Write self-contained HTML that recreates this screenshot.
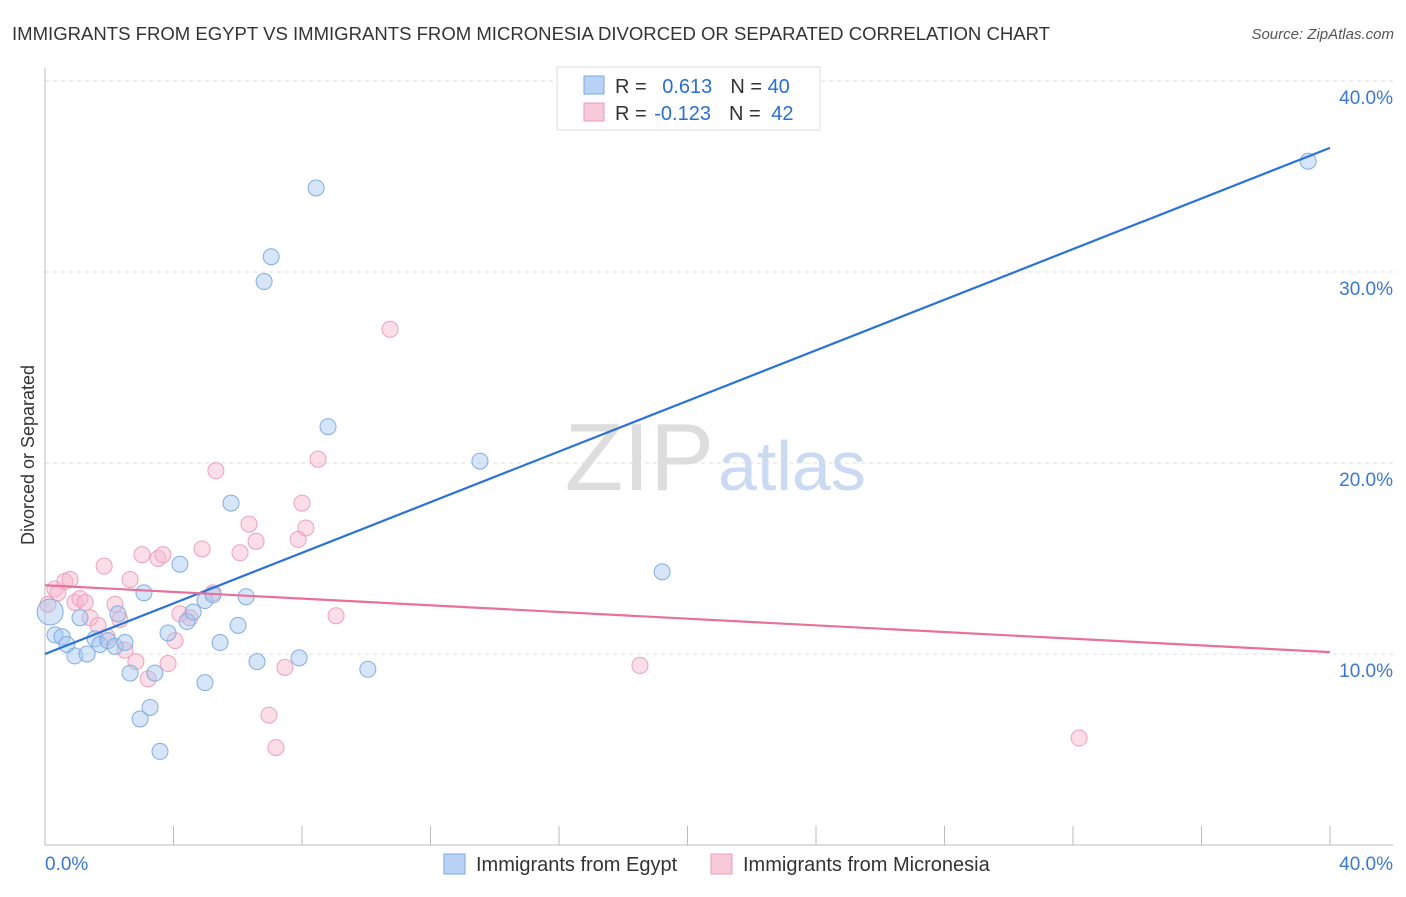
<!DOCTYPE html>
<html><head><meta charset="utf-8"><style>
body{margin:0;background:#fff;font-family:"Liberation Sans",sans-serif;}
svg text{font-family:"Liberation Sans",sans-serif;}
</style></head><body>
<svg id="chart" width="1406" height="892" viewBox="0 0 1406 892" xmlns="http://www.w3.org/2000/svg">
<text x="12" y="40" font-size="18" fill="#333" textLength="1038" lengthAdjust="spacingAndGlyphs">IMMIGRANTS FROM EGYPT VS IMMIGRANTS FROM MICRONESIA DIVORCED OR SEPARATED CORRELATION CHART</text>
<text x="1394" y="39" font-size="15" fill="#555" text-anchor="end" font-style="italic">Source: ZipAtlas.com</text>
<text x="714" y="490" font-size="96" fill="#ddd" text-anchor="end" font-family="Liberation Serif">ZIP</text>
<text x="718" y="490" font-size="70" fill="#c9daf2">atlas</text>
<text transform="translate(34,455) rotate(-90)" font-size="18" fill="#333" text-anchor="middle">Divorced or Separated</text>
<g id="grid"></g><g id="axes"></g><g id="pts"></g><g id="lines"></g>
<g>
<rect x="557" y="67" width="263" height="63" fill="#fff" stroke="#ddd"/>
<rect x="584" y="76" width="20" height="18" fill="#b8d3f5" stroke="#7aaae0"/>
<rect x="584" y="103" width="20" height="18" fill="#f8c9d8" stroke="#ec9bb5"/>
<text x="615" y="93" font-size="20" fill="#333">R = <tspan fill="#2a6fd0" dx="10">0.613</tspan><tspan dx="18" fill="#333">N = </tspan><tspan fill="#2a6fd0">40</tspan></text>
<text x="615" y="120" font-size="20" fill="#333">R = <tspan fill="#2a6fd0" dx="2">-0.123</tspan><tspan dx="18" fill="#333">N = </tspan><tspan fill="#2a6fd0" dx="5">42</tspan></text>
</g>
<g>
<rect x="444" y="854" width="21" height="20" fill="#b8d3f5" stroke="#7aaae0"/>
<text x="476" y="871" font-size="20" fill="#333">Immigrants from Egypt</text>
<rect x="711" y="854" width="21" height="20" fill="#f8c9d8" stroke="#ec9bb5"/>
<text x="743" y="871" font-size="20" fill="#333">Immigrants from Micronesia</text>
</g>
</svg>
<script>
const egyptX=[0.16,0.31,0.53,0.68,0.93,1.09,1.31,1.56,1.71,1.96,2.18,2.27,2.49,2.65,2.96,3.08,3.27,3.42,3.58,3.83,4.20,4.42,4.61,4.98,4.98,5.23,5.45,5.79,6.01,6.26,6.60,6.82,7.04,7.91,8.44,8.81,10.05,13.54,19.21,39.32];
const egyptY=[12.2,11.0,10.9,10.5,9.9,11.9,10.0,10.8,10.5,10.7,10.4,12.1,10.6,9.0,6.6,13.2,7.2,9.0,4.9,11.1,14.7,11.7,12.2,8.5,12.8,13.1,10.6,17.9,11.5,13.0,9.6,29.5,30.8,9.8,34.4,21.9,9.2,20.1,14.3,35.8];
const micX=[0.09,0.31,0.40,0.62,0.78,0.93,1.09,1.25,1.40,1.65,1.84,1.93,2.18,2.33,2.49,2.65,2.83,3.02,3.21,3.52,3.67,3.83,4.05,4.20,4.51,4.89,5.23,5.32,6.07,6.35,6.57,6.97,7.19,7.47,7.88,8.00,8.12,8.50,9.06,10.74,18.52,32.19];
const micY=[12.6,13.4,13.2,13.8,13.9,12.7,12.9,12.7,11.9,11.5,14.6,10.9,12.6,11.8,10.2,13.9,9.6,15.2,8.7,15.0,15.2,9.5,10.7,12.1,11.9,15.5,13.2,19.6,15.3,16.8,15.9,6.8,5.1,9.3,16.0,17.9,16.6,20.2,12.0,27.0,9.4,5.6];
const egyptTrend=[10.0,36.5];
const micTrend=[13.6,10.1];
const yTicks=[10,20,30,40];
const yTickLabels=["10.0%","20.0%","30.0%","40.0%"];
const xTicks=[0,4,8,12,16,20,24,28,32,36,40];
const NS="http://www.w3.org/2000/svg";
const sx=v=>45+v*32.125, sy=v=>845-v*19.1;
function mk(tag,attrs,parent){const e=document.createElementNS(NS,tag);for(const k in attrs)e.setAttribute(k,attrs[k]);document.getElementById(parent).appendChild(e);return e;}
yTicks.forEach((t,i)=>{
 const g=mk('line',{x1:45,x2:1393,y1:sy(t),y2:sy(t),stroke:'#ddd','stroke-dasharray':'4,4'},'grid');
 
 
 const l=mk('text',{x:1393,y:sy(t)+23,'font-size':19,fill:'#3a78d4','text-anchor':'end'},'grid');
 l.textContent=yTickLabels[i];
 
 
});
const ax=mk('line',{x1:45,x2:1393,y1:845,y2:845,stroke:'#bbb'},'axes');


const ay=mk('line',{x1:45,x2:45,y1:68,y2:845,stroke:'#bbb'},'axes');


xTicks.forEach(t=>{
 const k=mk('line',{x1:sx(t),x2:sx(t),y1:826,y2:845,stroke:'#bbb'},'axes');
 
 
});
const xl0=mk('text',{x:45,y:870,'font-size':19,fill:'#3a78d4'},'axes');xl0.textContent='0.0%';


const xl1=mk('text',{x:1393,y:870,'font-size':19,fill:'#3a78d4','text-anchor':'end'},'axes');xl1.textContent='40.0%';


micX.forEach((x,i)=>{
 const c=mk('circle',{cx:sx(x),cy:sy(micY[i]),r:8,fill:'rgba(246,182,204,0.45)',stroke:'#eea0ba','stroke-width':1},'pts');
 
 
});
egyptX.forEach((x,i)=>{
 const c=mk('circle',{cx:sx(x),cy:sy(egyptY[i]),r:i===0?13:8,fill:'rgba(164,198,240,0.45)',stroke:'#80ade2','stroke-width':1},'pts');
 
 
});
const tb=mk('line',{x1:sx(0),y1:sy(egyptTrend[0]),x2:sx(40),y2:sy(egyptTrend[1]),stroke:'#2a72d6','stroke-width':2.2},'lines');


const tp=mk('line',{x1:sx(0),y1:sy(micTrend[0]),x2:sx(40),y2:sy(micTrend[1]),stroke:'#e8709a','stroke-width':2.2},'lines');


</script>
</body></html>
